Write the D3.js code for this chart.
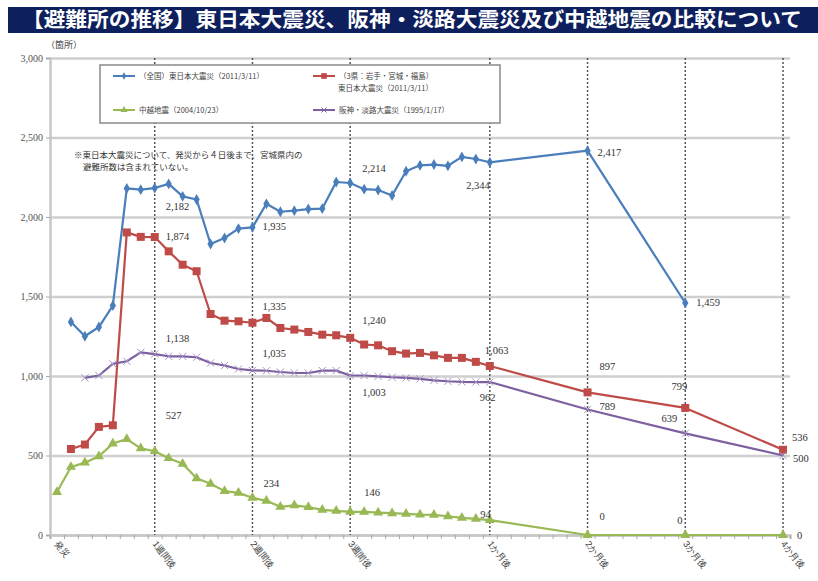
<!DOCTYPE html>
<html>
<head>
<meta charset="utf-8">
<script src="https://cdn.jsdelivr.net/npm/d3@7"></script>
<style>
  body { margin: 0; background: #fff; }
  svg { display: block; }
</style>
</head>
<body>
<div id="svg-holder"></div>
<script>
// slot on the category axis (one slot per day, then 2,3,4 months)
const slots = [0, 1, 2, 3, 4, 5, 6, 7, 8, 9, 10, 11, 12, 13, 14, 15, 16, 17, 18, 19, 20,
  21, 22, 23, 24, 25, 26, 27, 28, 29, 30, 31, 38, 45, 52];
const slotCount = 53;

const tickLabels = ['発災', '1週間後', '2週間後', '3週間後', '1か月後', '2か月後', '3か月後', '4か月後'];
const tickSlots = [0, 7, 14, 21, 31, 38, 45, 52];
const yTicks = [0, 500, 1000, 1500, 2000, 2500, 3000];

// (全国) 東日本大震災
const zenkoku = [null, 1340, 1250, 1308, 1443, 2180, 2172, 2182, 2208, 2130, 2110, 1830, 1868,
  1927, 1935, 2083, 2033, 2040, 2050, 2053, 2220, 2214, 2175, 2170, 2135, 2288, 2325, 2330,
  2322, 2378, 2365, 2344, 2417, 1459, null];
// (3県) 東日本大震災
const sanken = [null, 541, 569, 680, 690, 1903, 1875, 1874, 1784, 1700, 1659, 1390, 1348,
  1344, 1335, 1365, 1302, 1292, 1277, 1260, 1256, 1240, 1198, 1193, 1156, 1141, 1145, 1130,
  1114, 1114, 1089, 1063, 897, 799, 536];
// 中越地震
const chuetsu = [270, 428, 455, 495, 575, 603, 545, 527, 483, 448, 357, 322, 276,
  265, 234, 215, 177, 186, 175, 158, 152, 146, 145, 141, 137, 133, 128, 127,
  118, 108, 102, 94, 0, 0, 0];
// 阪神・淡路大震災
const hanshin = [null, null, 988, 1003, 1076, 1093, 1149, 1138, 1124, 1124, 1118, 1082, 1066,
  1044, 1035, 1033, 1025, 1019, 1019, 1034, 1034, 1003, 1003, 998, 992, 988, 982, 973,
  967, 963, 962, 962, 789, 639, 500];

const labeledSlots = [7, 14, 21, 31, 38, 45, 52];

// label placement (pixels from the point): [dx, dy, anchor]
const offZenkoku = [[11, 22, 'start'], [10, 3, 'start'], [12, -11, 'start'], [0, 27, 'end'],
  [10, 5, 'start'], [11, 3, 'start'], null];
const offSanken = [[11, 3, 'start'], [10, -13, 'start'], [12, -14, 'start'], [-5, -12, 'start'],
  [12, -22, 'start'], [2, -18, 'end'], [9, -9, 'start']];
const offHanshin = [[11, -12, 'start'], [10, -13, 'start'], [12, 20, 'start'], [-10, 19, 'start'],
  [12, 0, 'start'], [-8, -11, 'end'], [10, 6, 'start']];
const offChuetsu = [[11, -32, 'start'], [11, -11, 'start'], [14, -16, 'start'], [1, -2, 'end'],
  [12, -15, 'start'], [-8, -11, 'start'], [14, 4, 'start']];

const W = 818, H = 581;
const plotL = 50, plotR = 790, plotT = 58, plotB = 535;

let svg = d3.select('#svg-holder').append('svg')
  .attr('width', W)
  .attr('height', H)
  .style('font-family', "'Noto Sans CJK JP', sans-serif");

const x = d3.scaleLinear().domain([-0.5, slotCount - 0.5]).range([plotL, plotR]);
const y = d3.scaleLinear().domain([0, 3000]).range([plotB, plotT]);

// title bar
svg.append('rect')
  .attr('x', 8).attr('y', 7)
  .attr('width', 810).attr('height', 26)
  .attr('fill', '#0d1f5c');
svg.append('text')
  .attr('x', 22).attr('y', 27)
  .attr('fill', '#fff')
  .attr('font-size', 20)
  .attr('font-weight', 'bold')
  .attr('textLength', 780)
  .attr('lengthAdjust', 'spacingAndGlyphs')
  .text('【避難所の推移】東日本大震災、阪神・淡路大震災及び中越地震の比較について');

svg.append('text')
  .attr('x', 46).attr('y', 48)
  .attr('font-size', 9)
  .attr('fill', '#444')
  .text('（箇所）');

// gridlines
svg.append('g')
  .attr('transform', `translate(${plotL},0)`)
  .call(d3.axisLeft(y).tickValues(yTicks).tickSize(-(plotR - plotL)).tickFormat(''))
  .call(g => g.select('.domain').remove())
  .selectAll('line')
  .attr('stroke', '#cfcfcf')
  .attr('stroke-width', 2.5);

// y axis
svg.append('g')
  .attr('transform', `translate(${plotL},0)`)
  .call(d3.axisLeft(y).tickValues(yTicks).tickSize(4).tickFormat(d3.format(',')))
  .call(g => g.select('.domain').attr('stroke', '#c8c8c8').attr('stroke-width', 2.5))
  .call(g => g.selectAll('line').attr('stroke', '#aaa'))
  .call(g => g.selectAll('text')
    .attr('font-family', "'Liberation Serif', serif")
    .attr('font-size', 10)
    .attr('fill', '#555'));

// x axis small ticks
svg.append('g')
  .attr('transform', `translate(0,${plotB})`)
  .call(d3.axisBottom(x).tickValues(d3.range(-0.5, slotCount, 1)).tickSize(4).tickFormat(''))
  .call(g => g.select('.domain').attr('stroke', '#c8c8c8').attr('stroke-width', 2.5))
  .call(g => g.selectAll('line').attr('stroke', '#aaa'));

// x axis labels (rotated)
svg.append('g')
  .attr('transform', `translate(0,${plotB})`)
  .call(d3.axisBottom(x).tickValues(tickSlots).tickSize(0)
    .tickFormat((d, i) => tickLabels[i]))
  .call(g => g.select('.domain').remove())
  .selectAll('text')
  .attr('font-size', 9)
  .attr('fill', '#333')
  .attr('text-anchor', 'start')
  .attr('dy', 0)
  .attr('y', 0)
  .attr('transform', 'translate(-3,9) rotate(52)');

// dotted verticals
svg.append('g')
  .selectAll('line')
  .data(tickSlots.slice(1))
  .join('line')
  .attr('x1', d => x(d)).attr('x2', d => x(d))
  .attr('y1', plotT).attr('y2', plotB)
  .attr('stroke', '#555')
  .attr('stroke-width', 1.5)
  .attr('stroke-dasharray', '2,2');

// note
const note = svg.append('text')
  .attr('font-size', 8.5)
  .attr('fill', '#333');
note.append('tspan').attr('x', 74).attr('y', 158)
  .text('※東日本大震災について、発災から４日後まで、宮城県内の');
note.append('tspan').attr('x', 83).attr('y', 170)
  .text('避難所数は含まれていない。');

const series = [
  { name: 'zenkoku', values: zenkoku, color: '#4a7ebb', symbol: d3.symbolDiamond, size: 34, off: offZenkoku },
  { name: 'sanken', values: sanken, color: '#be4b48', symbol: d3.symbolSquare, size: 64, off: offSanken },
  { name: 'chuetsu', values: chuetsu, color: '#98b954', symbol: d3.symbolTriangle, size: 44, off: offChuetsu },
  { name: 'hanshin', values: hanshin, color: '#7d60a0', symbol: d3.symbolTimes, size: 36, off: offHanshin, stroke: true }
];

// legend
const lg = svg.append('g');
lg.append('rect')
  .attr('x', 100).attr('y', 65)
  .attr('width', 400).attr('height', 58)
  .attr('fill', '#fff')
  .attr('stroke', '#8a8a8a')
  .attr('stroke-width', 1.5);
const legendItems = [
  { s: 0, x: 113, y: 76, lines: ['（全国）東日本大震災（2011/3/11）'] },
  { s: 1, x: 313, y: 76, lines: ['（3県：岩手・宮城・福島）', '東日本大震災（2011/3/11）'] },
  { s: 2, x: 113, y: 110, lines: ['中越地震（2004/10/23）'] },
  { s: 3, x: 313, y: 110, lines: ['阪神・淡路大震災（1995/1/17）'] }
];
legendItems.forEach(it => {
  const s = series[it.s];
  lg.append('line')
    .attr('x1', it.x).attr('x2', it.x + 22)
    .attr('y1', it.y).attr('y2', it.y)
    .attr('stroke', s.color).attr('stroke-width', 2);
  lg.append('path')
    .attr('d', d3.symbol(s.symbol, s.size * 0.5)())
    .attr('transform', `translate(${it.x + 11},${it.y})`)
    .attr('fill', s.stroke ? 'none' : s.color)
    .attr('stroke', s.stroke ? s.color : 'none');
  it.lines.forEach((t, k) => {
    lg.append('text')
      .attr('x', it.x + 26 + (k > 0 ? -1 : 0))
      .attr('y', it.y + 3 + k * 12)
      .attr('font-size', 7.5)
      .attr('fill', '#444')
      .text(t);
  });
});

// series
const line = d3.line()
  .x(d => x(d.slot))
  .y(d => y(d.v));

series.forEach(s => {
  const pts = slots.map((slot, i) => ({ slot, v: s.values[i] }));
  const valid = pts.filter(d => d.v != null);
  const g = svg.append('g');
  g.append('path')
    .datum(valid)
    .attr('d', line)
    .attr('fill', 'none')
    .attr('stroke', s.color)
    .attr('stroke-width', 2.2)
    .attr('stroke-linejoin', 'round');
  g.selectAll('path.m')
    .data(valid)
    .join('path')
    .attr('class', 'm')
    .attr('d', d3.symbol(s.symbol, s.size)())
    .attr('transform', d => `translate(${x(d.slot)},${y(d.v)})`)
    .attr('fill', s.stroke ? 'none' : s.color)
    .attr('stroke', s.stroke ? '#a894c8' : 'none')
    .attr('stroke-width', 1);

  labeledSlots.forEach((slot, k) => {
    const o = s.off[k];
    const i = slots.indexOf(slot);
    const v = s.values[i];
    if (!o || v == null) return;
    svg.append('text')
      .attr('x', x(slot) + o[0])
      .attr('y', y(v) + o[1])
      .attr('text-anchor', o[2])
      .attr('font-family', "'Liberation Serif', serif")
      .attr('font-size', 10.5)
      .attr('fill', '#333')
      .text(d3.format(',')(v));
  });
});
</script>
</body>
</html>
